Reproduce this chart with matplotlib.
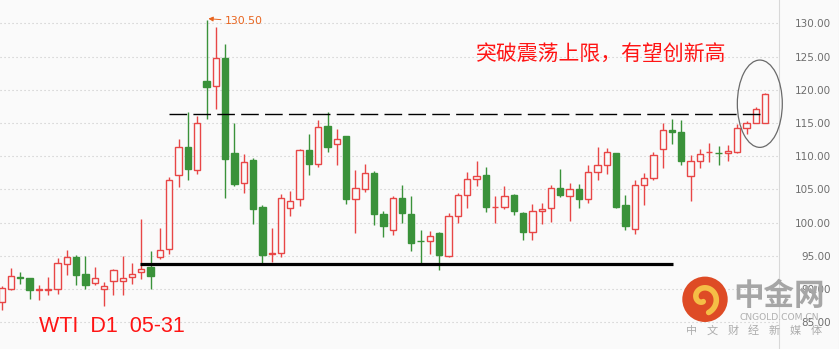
import numpy as np
import matplotlib
matplotlib.use("Agg")
import matplotlib.pyplot as plt
from matplotlib.patches import Ellipse, Circle
from matplotlib.lines import Line2D

# ---------------- data (WTI daily candles) ----------------
opens = [88.0, 90.0, 91.8, 91.6, 89.8, 89.9, 89.95, 93.8, 94.8, 92.25,
         90.85, 89.95, 91.25, 91.25, 91.75, 92.5, 93.3, 94.85, 96.05, 107.1,
         111.35, 107.85, 121.3, 120.6, 124.7, 110.4, 105.9, 109.4, 102.35, 95.2,
         95.35, 102.15, 103.6, 110.85, 108.75, 114.5, 111.8, 113.05, 103.5, 105.1,
         107.45, 101.3, 98.9, 103.7, 101.3, 97.2, 97.15, 98.35, 95.0, 100.95,
         104.1, 106.5, 107.1, 102.3, 102.4, 104.15, 101.45, 98.5, 101.7, 102.15,
         105.15, 103.95, 105.0, 103.5, 107.55, 108.6, 110.45, 102.6, 98.95, 105.6,
         106.65, 111.0, 113.95, 113.65, 106.95, 109.2, 110.55, 110.5, 110.4, 110.65,
         114.2, 114.95, 114.95]
highs = [90.4, 93.1, 92.6, 91.7, 90.6, 91.8, 94.65, 95.85, 95.1, 94.95,
         93.3, 91.05, 92.95, 94.95, 93.9, 100.5, 95.7, 99.1, 106.8, 112.55,
         116.65, 116.0, 130.5, 129.5, 126.9, 114.95, 110.25, 109.65, 102.65, 99.15,
         104.3, 104.75, 111.05, 113.35, 115.4, 116.6, 114.05, 113.05, 107.9, 108.8,
         107.8, 101.75, 103.95, 105.65, 103.95, 98.85, 98.7, 98.55, 101.4, 104.4,
         107.6, 109.25, 108.35, 103.95, 105.45, 104.3, 101.6, 102.8, 102.95, 105.65,
         108.05, 105.9, 105.85, 108.6, 111.35, 111.2, 110.5, 104.15, 106.4, 107.45,
         110.6, 115.0, 115.55, 115.45, 110.1, 111.0, 111.95, 111.5, 111.6, 114.9,
         115.3, 117.45, 119.45]
lows = [86.8, 89.8, 90.7, 88.5, 88.3, 89.1, 89.3, 92.15, 90.65, 90.0,
        90.65, 87.4, 89.15, 89.15, 90.7, 91.55, 90.0, 94.45, 95.3, 105.3,
        106.45, 107.35, 115.65, 117.15, 103.75, 105.55, 104.5, 99.8, 93.85, 94.1,
        94.85, 101.05, 102.55, 107.2, 108.4, 110.65, 108.7, 102.85, 98.45, 104.65,
        99.6, 97.85, 98.15, 99.95, 95.7, 93.9, 95.3, 92.85, 94.85, 100.0,
        102.25, 105.55, 101.65, 100.0, 102.1, 101.2, 97.35, 97.35, 99.85, 100.1,
        103.9, 100.3, 102.25, 103.0, 106.4, 107.35, 102.25, 98.9, 98.3, 102.7,
        106.35, 108.15, 111.85, 108.6, 103.3, 108.25, 109.15, 108.7, 109.25, 110.4,
        113.3, 114.95, 114.95]
closes = [90.1, 91.9, 91.7, 89.8, 89.95, 89.95, 93.9, 94.75, 92.15, 90.65,
          91.6, 90.4, 92.8, 91.6, 92.25, 92.95, 92.0, 95.8, 106.35, 111.35,
          108.1, 114.95, 120.45, 124.7, 109.6, 105.85, 109.05, 102.1, 95.1, 95.4,
          103.65, 103.2, 110.85, 108.85, 114.35, 111.4, 112.55, 103.6, 105.15, 107.4,
          101.35, 99.45, 103.65, 101.45, 96.95, 97.15, 97.9, 95.15, 100.95, 104.1,
          106.5, 106.95, 102.4, 102.4, 103.95, 101.8, 98.6, 101.7, 102.05, 105.15,
          104.2, 105.0, 103.6, 107.55, 108.6, 110.55, 102.4, 99.5, 105.6, 106.65,
          110.1, 113.9, 113.7, 109.3, 109.2, 110.25, 110.65, 110.45, 110.75, 114.2,
          115.05, 117.15, 119.3]

y_ticks = [85, 90, 95, 100, 105, 110, 115, 120, 125, 130]
support_level = 93.7
support_span = [14.86, 72.07]
resistance_level = 116.3
resistance_span = [17.97, 82.1]
peak_index = 22
title_text = "突破震荡上限，有望创新高"
chart_label = "WTI  D1  05-31"

# ---------------- style ----------------
BG = "#FAFAFA"
RED = "#E84646"
GREEN = "#3A923A"
W, H = 839, 349

fig = plt.figure(figsize=(W / 100, H / 100), dpi=100)
fig.patch.set_facecolor(BG)
ax = fig.add_axes([0, 0, 779 / W, 1])
ax.set_facecolor(BG)

x = np.arange(len(opens))
o = np.array(opens); c = np.array(closes)
hi = np.array(highs); lo = np.array(lows)
up = c >= o
edge = np.where(up, RED, GREEN)
face = np.where(up, BG, GREEN)

ax.vlines(x, lo, hi, colors=edge, linewidth=1.0, zorder=2)
ax.bar(x, np.abs(c - o), bottom=np.minimum(o, c), width=0.68,
       color=face, edgecolor=edge, linewidth=1.0, zorder=3)

ax.set_xlim(-0.18, 83.49)
ax.set_ylim(80.95, 133.51)

# grid + right axis labels
ax.set_yticks(y_ticks, [f"{v:.2f}" for v in y_ticks], ha="right")
ax.grid(axis="y", color="#C8C8C8", linestyle=(0, (1, 2.6)), linewidth=0.8, zorder=0)
ax.yaxis.tick_right()
ax.tick_params(axis="y", length=0, pad=37.4, labelsize=7.5, labelcolor="#6E6E6E")
ax.set_xticks([])
for s in ["top", "left", "bottom"]:
    ax.spines[s].set_visible(False)
ax.spines["right"].set_color("#D8D8D8")
ax.spines["right"].set_linewidth(0.8)
fig.add_artist(Line2D([838.5 / W, 838.5 / W], [0, 1], color="#D8D8D8", lw=0.8))

# support and resistance lines
ax.plot(support_span, [support_level] * 2, color="black", lw=2.3, zorder=4,
        solid_capstyle="butt")
ax.plot(resistance_span, [resistance_level] * 2, color="black", lw=1.0, zorder=4,
        linestyle=(0, (12.7, 4.5)))

# ellipse around breakout
ax.add_patch(Ellipse((81.43, 117.89), width=4.83, height=13.15, fill=False,
                     edgecolor="#6A6A6A", lw=0.9, zorder=5, clip_on=False))

# peak annotation
ORANGE = "#E8641E"
ax.annotate(f"{highs[peak_index]:.2f}", xy=(peak_index + 0.2, highs[peak_index] + 0.2),
            xytext=(11.5, -2), textcoords="offset points", va="center", ha="left",
            fontsize=7.8, color=ORANGE,
            arrowprops=dict(arrowstyle="-|>,head_length=0.35,head_width=0.18",
                            color=ORANGE, lw=0.7, shrinkA=0.5, shrinkB=0))

# ---------------- overlay (texts / watermark) ----------------
ov = fig.add_axes([0, 0, 1, 1])
ov.set_xlim(0, W); ov.set_ylim(H, 0)
ov.axis("off")
ov.patch.set_alpha(0)

ov.text(475.7, 53.5, title_text, color="#FF1414", fontsize=15,
        family=["Noto Sans CJK SC", "DejaVu Sans"], ha="left", va="center")
ov.text(39, 332.3, chart_label, color="#FF1414", fontsize=15.5,
        family=["Liberation Sans"], ha="left", va="baseline")

# watermark logo
ov.add_patch(Circle((705, 299.3), 22.7, facecolor="#DE4B25", edgecolor="none", zorder=6))
t = np.linspace(0.3, 2.0 * np.pi, 60)
r = 3 + 2.0 * t
ov.plot(703 + r * np.cos(t + 1.2), 298 + r * np.sin(t + 1.2), color="#F5BE46",
        lw=4, solid_capstyle="round", zorder=7)
ov.text(779, 296, "中金网", fontsize=22, color="#A6A6A6", weight="bold",
        family=["Noto Sans CJK SC"], ha="center", va="center", zorder=8)
ov.text(779, 317, "CNGOLD.COM.CN", fontsize=6.6, color="#B0B0B0",
        family=["DejaVu Sans"], ha="center", va="center", zorder=8)
for k, ch in enumerate("中文财经新媒体"):
    ov.text(691.2 + k * 20.8, 331, ch, fontsize=8, color="#ADADAD",
            family=["Noto Sans CJK SC"], ha="center", va="center", zorder=8)

fig.savefig("out.png", dpi=100, facecolor=BG)
